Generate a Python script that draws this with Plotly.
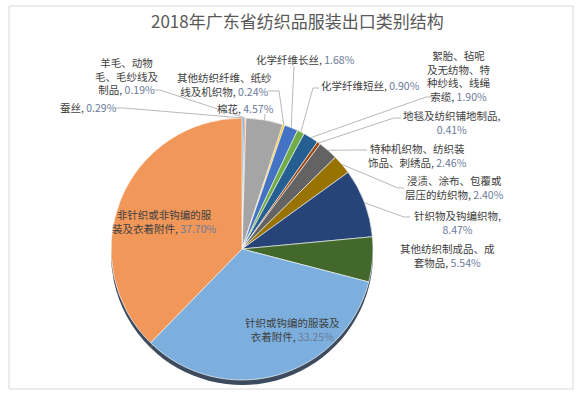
import math
import plotly.graph_objects as go

# ---------------- data ----------------
categories = [
    "蚕丝",
    "羊毛、动物毛、毛纱线及制品",
    "棉花",
    "其他纺织纤维、纸纱线及机织物",
    "化学纤维长丝",
    "化学纤维短丝",
    "絮胎、毡呢及无纺物、特种纱线、线绳索缆",
    "地毯及纺织铺地制品",
    "特种机织物、纺织装饰品、刺绣品",
    "浸渍、涂布、包覆或层压的纺织物",
    "针织物及钩编织物",
    "其他纺织制成品、成套物品",
    "针织或钩编的服装及衣着附件",
    "非针织或非钩编的服装及衣着附件",
]
values = [0.29, 0.19, 4.57, 0.24, 1.68, 0.90, 1.90, 0.41, 2.46, 2.40, 8.47, 5.54, 33.25, 37.70]
title_text = "2018年广东省纺织品服装出口类别结构"

# ---------------- styles / layout ----------------
colors = ["#5B9BD5", "#ED7D31", "#A5A5A5", "#FFC000", "#4472C4", "#70AD47", "#255E91",
          "#9E480E", "#636363", "#997300", "#264478", "#43682B", "#7CAFDD", "#F1975A"]
# character indices where each label wraps
breaks = [[], [5, 11], [], [9], [], [], [5, 11, 17], [9], [9], [9], [8], [9], [9], [9]]
# label block centre (px) and leader anchor / elbow (px), None = no leader
label_pos = [
    (88, 107, (116, 108), (124, 108)),
    (127, 76, (154, 90), (160, 90)),
    (245, 108, (265, 114), None),
    (224, 84, (268, 91), (279, 91)),
    (305, 59, (294, 66), None),
    (370, 85, (319, 88), (313, 88)),
    (459, 76, (431, 97), (426, 97)),
    (452, 123, (401, 118), (394, 118)),
    (417, 155, (367, 150), (361, 150)),
    (454, 187, (404, 188), (398, 188)),
    (457, 222, (410, 217), (404, 217)),
    (447, 255, None, None),
    (292, 329, None, None),
    (164, 221, None, None),
]

W, H = 587, 393
CX, CY, R = 242, 249, 131
FONT = "Noto Sans CJK SC"


def px(x):
    return x / W


def py(y):
    return 1 - y / H


fig = go.Figure()

# darker "thickness" pie underneath for the 3-D edge
shift = 5
fig.add_trace(go.Pie(
    values=values, labels=categories, sort=False, direction="clockwise", rotation=0,
    marker=dict(colors=["#3c4b5e"] * len(values), line=dict(width=0)),
    textinfo="none", hoverinfo="skip", showlegend=False,
    domain=dict(x=[px(CX - R), px(CX + R)], y=[py(CY + shift + R), py(CY + shift - R)]),
))

fig.add_trace(go.Pie(
    values=values, labels=categories, sort=False, direction="clockwise", rotation=0,
    marker=dict(colors=colors, line=dict(color="rgba(255,255,255,0.8)", width=0.8)),
    textinfo="none", hoverinfo="label+percent", showlegend=False,
    domain=dict(x=[px(CX - R), px(CX + R)], y=[py(CY + R), py(CY - R)]),
))

annotations = []
shapes = []

annotations.append(dict(
    text=title_text, x=px(298), y=py(21), xref="paper", yref="paper",
    showarrow=False, xanchor="center", yanchor="middle",
    font=dict(family=FONT, size=17, color="#595959"),
))

total = sum(values)
cum = 0.0
for i, (name, v) in enumerate(zip(categories, values)):
    mid = (cum + v / 2) / total * 2 * math.pi
    cum += v
    sx = CX + R * math.sin(mid)
    sy = CY - R * math.cos(mid)

    # build label lines
    cuts = [0] + breaks[i] + [len(name)]
    lines = [name[cuts[k]:cuts[k + 1]] for k in range(len(cuts) - 1)]
    pct = f'<span style="color:#6b7a99">{v:.2f}%</span>'
    if lines[-1] == "":
        lines[-2] += ","
        lines[-1] = pct
    else:
        lines[-1] += ", " + pct

    lx, ly, anchor, elbow = label_pos[i]
    annotations.append(dict(
        text="<br>".join(lines), x=px(lx), y=py(ly), xref="paper", yref="paper",
        showarrow=False, xanchor="center", yanchor="middle", align="center",
        font=dict(family=FONT, size=10.5, color="#404040"),
    ))

    if anchor is not None:
        pts = [anchor] + ([elbow] if elbow else []) + [(sx, sy)]
        path = "M " + " L ".join(f"{px(a):.5f},{py(b):.5f}" for a, b in pts)
        shapes.append(dict(type="path", path=path, xref="paper", yref="paper",
                           line=dict(color="#a6a6a6", width=0.8)))

# chart border
shapes.append(dict(type="rect", xref="paper", yref="paper",
                   x0=px(9), x1=px(573), y0=py(389), y1=py(6),
                   line=dict(color="#d9d9d9", width=1), fillcolor="rgba(0,0,0,0)"))

fig.update_layout(
    width=W, height=H,
    margin=dict(l=0, r=0, t=0, b=0),
    paper_bgcolor="white", plot_bgcolor="white",
    annotations=annotations, shapes=shapes,
    showlegend=False,
)

fig.write_html("out.html", config={"displayModeBar": False},
               post_script="document.body.style.margin='0';")
